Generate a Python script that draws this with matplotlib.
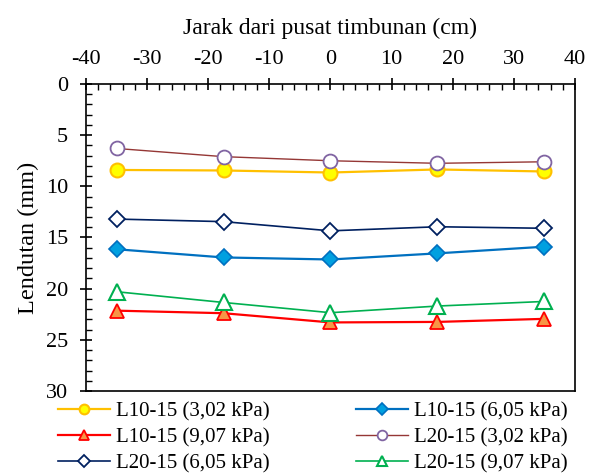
import matplotlib.pyplot as plt
from matplotlib.ticker import MultipleLocator

plt.rcParams['font.family'] = ['Liberation Serif', 'DejaVu Serif']
plt.rcParams['axes.unicode_minus'] = False

# posisi titik ukur (cm dari pusat timbunan)
jarak = [-35, -17.5, 0, 17.5, 35]

# lendutan (mm)
l10_302 = [8.4, 8.45, 8.65, 8.35, 8.55]
l10_605 = [16.15, 16.95, 17.15, 16.55, 15.9]
l10_907 = [22.15, 22.4, 23.3, 23.25, 22.95]
l20_302 = [6.3, 7.1, 7.5, 7.75, 7.6]
l20_605 = [13.2, 13.45, 14.35, 13.95, 14.1]
l20_907 = [20.3, 21.35, 22.35, 21.7, 21.25]

labels = ['L10-15 (3,02 kPa)', 'L10-15 (6,05 kPa)', 'L10-15 (9,07 kPa)',
          'L20-15 (3,02 kPa)', 'L20-15 (6,05 kPa)', 'L20-15 (9,07 kPa)']

fig = plt.figure(figsize=(5.98, 4.73), dpi=100)
ax = fig.add_axes([0.1438, 0.1734, 0.8177, 0.649])

h = []
h += ax.plot(jarak, l10_302, color='#FFC000', lw=1.6, marker='o', ms=10,
             mfc='#FFFF00', mec='#FFC000', mew=1.5, label=labels[0])
h += ax.plot(jarak, l10_605, color='#0070C0', lw=1.6, marker='D', ms=8.5,
             mfc='#00A0E0', mec='#0070C0', mew=1.2, label=labels[1])
h += ax.plot(jarak, l10_907, color='#FF0000', lw=1.6, marker='^', ms=10,
             mfc='#F79646', mec='#FF0000', mew=1.3, label=labels[2])
h += ax.plot(jarak, l20_302, color='#953735', lw=1.0, marker='o', ms=10,
             mfc='white', mec='#8064A2', mew=1.3, label=labels[3])
h += ax.plot(jarak, l20_605, color='#002060', lw=1.2, marker='D', ms=8.5,
             mfc='white', mec='#002060', mew=1.3, label=labels[4])
h += ax.plot(jarak, l20_907, color='#00B050', lw=1.2, marker='^', ms=11,
             mfc='white', mec='#00B050', mew=1.5, label=labels[5])

ax.set_xlim(-40, 40)
ax.set_ylim(30, 0)
ax.xaxis.tick_top()
ax.xaxis.set_label_position('top')
ax.set_xlabel('Jarak dari pusat timbunan (cm)', fontsize=17, labelpad=12)
ax.set_ylabel('Lendutan (mm)', fontsize=17.5, labelpad=5)

ax.xaxis.set_major_locator(MultipleLocator(10))
ax.xaxis.set_minor_locator(MultipleLocator(2))
ax.yaxis.set_major_locator(MultipleLocator(5))
ax.yaxis.set_minor_locator(MultipleLocator(1))
ax.tick_params(which='major', direction='inout', length=8, width=1.2,
               labelsize=16)
ax.tick_params(axis='x', which='major', pad=6.5)
ax.tick_params(axis='y', which='major', pad=9)
ax.tick_params(which='minor', direction='in', length=4, width=1)
ax.tick_params(axis='x', which='both', top=True, bottom=False)
ax.tick_params(axis='y', which='both', left=True, right=False)
for s in ax.spines.values():
    s.set_linewidth(1.2)

# legenda dua kolom, diisi per baris
order = [0, 2, 4, 1, 3, 5]
fig.legend([h[i] for i in order], [labels[i] for i in order],
           loc='upper left', bbox_to_anchor=(0.097, 0.1505), ncol=2,
           frameon=False, fontsize=15, markerscale=0.7, borderpad=0,
           borderaxespad=0, handlelength=2.5, handletextpad=0.28,
           columnspacing=4.15, labelspacing=0.3)

fig.savefig('out.png', dpi=100)
